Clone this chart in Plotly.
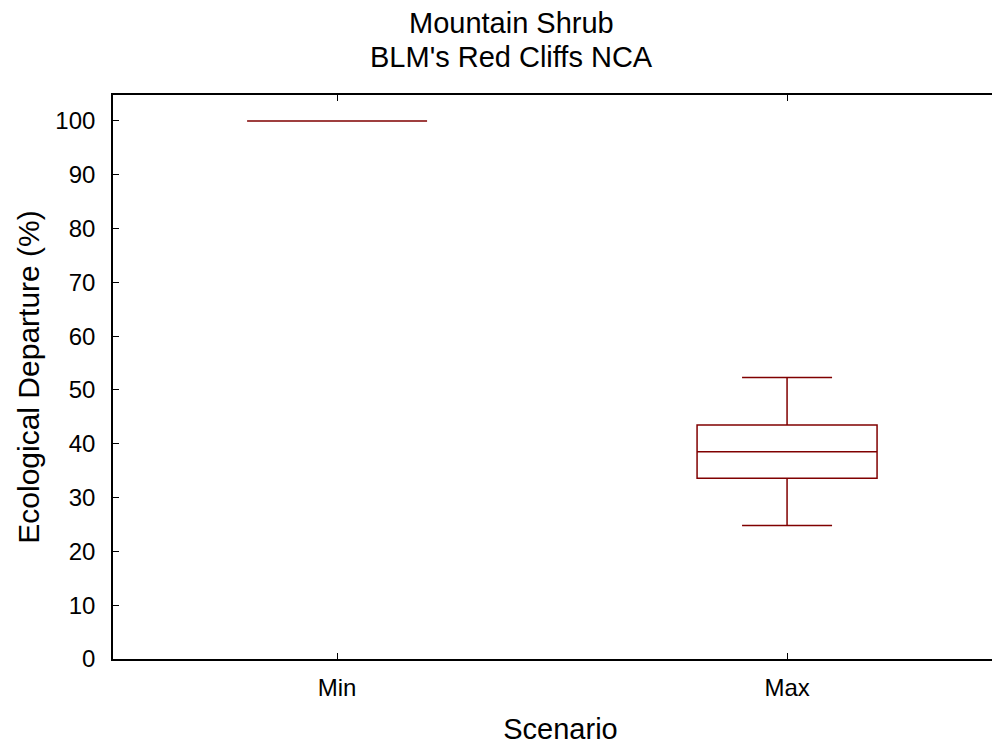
import plotly.graph_objects as go

scenarios = ["Min", "Max"]
q1 = [100.0, 33.6]
median = [100.0, 38.5]
q3 = [100.0, 43.5]
lower_whisker = [100.0, 24.8]
upper_whisker = [100.0, 52.3]

title_lines = ["Mountain Shrub", "BLM's Red Cliffs NCA"]
y_ticks = list(range(0, 101, 10))

box_color = "#800000"
font_family = "Liberation Sans, Arial, sans-serif"

fig = go.Figure()
fig.add_trace(go.Box(
    x=scenarios,
    q1=q1,
    median=median,
    q3=q3,
    lowerfence=lower_whisker,
    upperfence=upper_whisker,
    width=0.4,
    whiskerwidth=0.5,
    line=dict(color=box_color, width=1.5),
    fillcolor="rgba(255,255,255,0)",
    boxpoints=False,
    showlegend=False,
    hoverinfo="skip",
))

axis_common = dict(
    showgrid=False,
    zeroline=False,
    showline=True,
    linecolor="black",
    linewidth=1.6,
    ticks="inside",
    ticklen=6,
    tickwidth=1,
    tickcolor="black",
    tickfont=dict(size=24, color="black", family=font_family),
)

# title lines as annotations (paper coords relative to plot area)
title_y = [1.1285, 1.0668]
annotations = [
    dict(text=t, x=0.4447, xref="paper", xanchor="center",
         y=yy, yref="paper", yanchor="middle", showarrow=False,
         font=dict(size=29, color="black", family=font_family))
    for t, yy in zip(title_lines, title_y)
]

fig.update_layout(
    width=1000,
    height=746,
    paper_bgcolor="white",
    plot_bgcolor="white",
    margin=dict(l=105, r=0, t=87, b=95),
    font=dict(family=font_family, color="black"),
    annotations=annotations,
    xaxis=dict(
        **axis_common,
        mirror="ticks",
        type="category",
        categoryorder="array",
        categoryarray=scenarios,
        range=[-0.498, 1.491],
        ticklabelstandoff=6,
        title=dict(text="Scenario", font=dict(size=29, family=font_family), standoff=19),
    ),
    yaxis=dict(
        **axis_common,
        mirror=False,
        range=[0, 104.83],
        tickvals=y_ticks,
        ticklabelstandoff=11,
        title=dict(text="Ecological Departure (%)", font=dict(size=30, family=font_family), standoff=7),
    ),
)

fig.write_html("out.html")
